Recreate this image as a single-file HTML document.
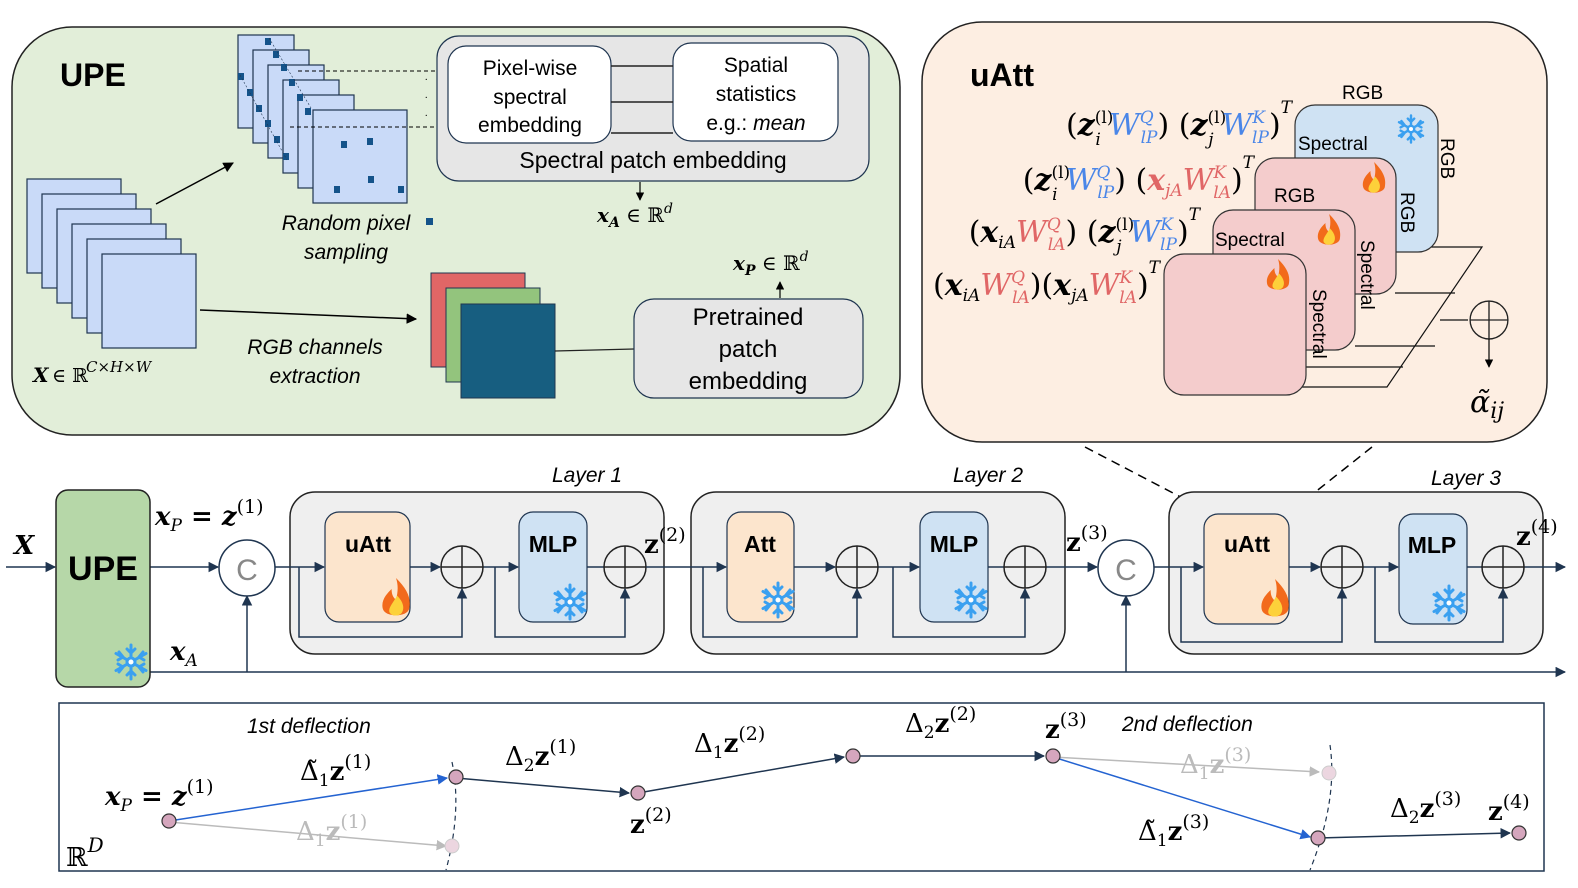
<!DOCTYPE html>
<html><head><meta charset="utf-8"><style>
html,body{margin:0;padding:0;background:#fff}
svg{display:block}
.s{font-family:"Liberation Sans",sans-serif}
.m{font-family:"DejaVu Serif","Liberation Serif",serif}
</style></head><body>
<svg width="1578" height="888" viewBox="0 0 1578 888" xmlns="http://www.w3.org/2000/svg">
<defs>
<marker id="a" viewBox="0 0 10 10" refX="9" refY="5" markerWidth="7" markerHeight="7" orient="auto"><path d="M0,0L10,5L0,10z" fill="#1f3550"/></marker>
<marker id="ak" viewBox="0 0 10 10" refX="9" refY="5" markerWidth="7" markerHeight="7" orient="auto"><path d="M0,0L10,5L0,10z" fill="#000"/></marker>
<marker id="ab" viewBox="0 0 10 10" refX="9" refY="5" markerWidth="7" markerHeight="7" orient="auto"><path d="M0,0L10,5L0,10z" fill="#2463d1"/></marker>
<marker id="ag" viewBox="0 0 10 10" refX="9" refY="5" markerWidth="7" markerHeight="7" orient="auto"><path d="M0,0L10,5L0,10z" fill="#bbb"/></marker>
<g id="fire"><path d="M0,-20 C10,-10 14,-2 12,8 C10,16 -10,16 -12,8 C-14,0 -8,-6 -4,-10 C-4,-4 -2,-2 0,0 C2,-8 2,-14 0,-20z" fill="#f26a1b"/><path d="M1,-4 C7,2 8,8 5,12 C2,15 -4,15 -6,11 C-7,7 -3,3 1,-4z" fill="#fdd13a"/></g>
<g id="snow" stroke="#3aa0f0" stroke-width="3" stroke-linecap="round" fill="none"><path d="M0,-17V17M-15,-8.5L15,8.5M-15,8.5L15,-8.5M-4,-13L0,-9L4,-13M-4,13L0,9L4,13M-13,-2L-8,-5L-12,-10M13,2L8,5L12,10M13,-2L8,-5L12,-10M-13,2L-8,5L-12,10"/><circle r="4" fill="#fff"/></g>
<g id="plus"><circle r="21" fill="none" stroke="#222" stroke-width="1.5"/><path d="M-21,0H21M0,-21V21" stroke="#222" stroke-width="1.5"/></g>
</defs>

<!-- UPE panel -->
<rect x="12" y="27" width="888" height="408" rx="60" fill="#e2eed9" stroke="#222" stroke-width="1.5"/>
<text x="60" y="86" class="s" font-size="32" font-weight="bold">UPE</text>
<g fill="#c9daf8" stroke="#1f3550" stroke-width="1.2">
<rect x="27" y="179" width="94" height="94"/><rect x="42" y="194" width="94" height="94"/><rect x="57" y="209" width="94" height="94"/><rect x="72" y="224" width="94" height="94"/><rect x="87" y="239" width="94" height="94"/><rect x="102" y="254" width="94" height="94"/>
</g>
<text x="33" y="382" class="m" font-size="20" font-style="italic" font-weight="bold">X</text>
<text x="52" y="382" class="m" font-size="19">∈ ℝ</text>
<text x="86" y="372" class="m" font-size="15" font-style="italic">C×H×W</text>
<line x1="156" y1="204" x2="233" y2="163" stroke="#000" stroke-width="1.5" marker-end="url(#ak)"/>
<g fill="#c9daf8" stroke="#1f3550" stroke-width="1.2">
<rect x="238" y="35" width="56" height="93"/><rect x="253" y="50" width="56" height="93"/><rect x="268" y="65" width="56" height="93"/><rect x="283" y="80" width="56" height="93"/><rect x="298" y="95" width="56" height="93"/><rect x="313" y="110" width="94" height="93"/>
</g>
<g fill="#14538a">
<rect x="265" y="38" width="6" height="7"/><rect x="273" y="51" width="6" height="7"/><rect x="281" y="64" width="6" height="7"/><rect x="289" y="79" width="6" height="7"/><rect x="297" y="94" width="6" height="7"/><rect x="305" y="108" width="6" height="7"/>
<rect x="238" y="73" width="6" height="7"/><rect x="247" y="89" width="6" height="7"/><rect x="256" y="105" width="6" height="7"/><rect x="265" y="120" width="6" height="7"/><rect x="274" y="136" width="6" height="7"/><rect x="283" y="153" width="6" height="7"/>
<rect x="341" y="141" width="6" height="7"/><rect x="367" y="138" width="6" height="7"/><rect x="334" y="186" width="6" height="7"/><rect x="368" y="176" width="6" height="7"/><rect x="398" y="186" width="6" height="7"/>
<rect x="426" y="218" width="7" height="7"/>
</g>
<path d="M269,38L311,108M240,75L287,160" stroke="#1f3550" stroke-width="0.6" stroke-dasharray="2,2"/>
<path d="M298,71H448M290,127H448" stroke="#000" stroke-dasharray="4,3" stroke-width="1"/>
<text x="425" y="80" font-size="10">.</text><text x="425" y="98" font-size="10">.</text><text x="425" y="116" font-size="10">.</text>
<text x="346" y="230" class="s" font-size="21" font-style="italic" text-anchor="middle">Random pixel</text>
<text x="346" y="259" class="s" font-size="21" font-style="italic" text-anchor="middle">sampling</text>
<rect x="437" y="36" width="432" height="145" rx="22" fill="#e6e6e6" stroke="#1f3550" stroke-width="1.2"/>
<rect x="448" y="46" width="163" height="97" rx="18" fill="#fff" stroke="#1f3550" stroke-width="1.2"/>
<rect x="673" y="43" width="165" height="98" rx="18" fill="#fff" stroke="#1f3550" stroke-width="1.2"/>
<path d="M611,66H673M611,102H673M611,133H673" stroke="#222" stroke-width="1.5"/>
<g class="s" font-size="21" text-anchor="middle">
<text x="530" y="75">Pixel-wise</text><text x="530" y="104">spectral</text><text x="530" y="132">embedding</text>
<text x="756" y="72">Spatial</text><text x="756" y="101">statistics</text><text x="756" y="130">e.g.: <tspan font-style="italic">mean</tspan></text>
<text x="653" y="168" font-size="23">Spectral patch embedding</text>
</g>
<line x1="640" y1="182" x2="640" y2="200" stroke="#000" stroke-width="1.2" marker-end="url(#ak)"/>
<text x="597" y="222" class="m" font-size="20" font-style="italic" font-weight="bold">x<tspan font-size="14" dy="5">A</tspan><tspan dy="-5" font-weight="normal" font-style="normal"> ∈ ℝ</tspan><tspan font-size="14" dy="-9" font-weight="normal">d</tspan></text>
<line x1="200" y1="310" x2="416" y2="319" stroke="#000" stroke-width="1.5" marker-end="url(#ak)"/>
<text x="315" y="354" class="s" font-size="21" font-style="italic" text-anchor="middle">RGB channels</text>
<text x="315" y="383" class="s" font-size="21" font-style="italic" text-anchor="middle">extraction</text>
<rect x="431" y="273" width="94" height="94" fill="#e06666" stroke="#1f3550" stroke-width="1"/>
<rect x="446" y="288" width="94" height="94" fill="#93c47d" stroke="#1f3550" stroke-width="1"/>
<rect x="461" y="304" width="94" height="94" fill="#175e80" stroke="#1f3550" stroke-width="1"/>
<line x1="555" y1="351" x2="634" y2="349" stroke="#222" stroke-width="1.2"/>
<rect x="634" y="299" width="229" height="99" rx="20" fill="#e6e6e6" stroke="#1f3550" stroke-width="1.2"/>
<g class="s" font-size="24" text-anchor="middle"><text x="748" y="325">Pretrained</text><text x="748" y="357">patch</text><text x="748" y="389">embedding</text></g>
<line x1="780" y1="298" x2="780" y2="282" stroke="#000" stroke-width="1.2" marker-end="url(#ak)"/>
<text x="733" y="270" class="m" font-size="20" font-style="italic" font-weight="bold">x<tspan font-size="14" dy="5">P</tspan><tspan dy="-5" font-weight="normal" font-style="normal"> ∈ ℝ</tspan><tspan font-size="14" dy="-9" font-weight="normal">d</tspan></text>

<!-- uAtt panel -->
<rect x="922" y="22" width="625" height="420" rx="60" fill="#fdeee2" stroke="#222" stroke-width="1.5"/>
<text x="970" y="86" class="s" font-size="32" font-weight="bold">uAtt</text>
<path d="M1430,247H1482L1387,387H1300M1395,293H1455M1355,346H1435M1300,367H1403M1440,320H1468" stroke="#111" stroke-width="1.2" fill="none"/>
<rect x="1295" y="105" width="143" height="147" rx="20" fill="#cfe2f3" stroke="#333" stroke-width="1.2"/>
<rect x="1255" y="158" width="141" height="136" rx="20" fill="#f4cccc" stroke="#333" stroke-width="1.2"/>
<rect x="1213" y="210" width="142" height="140" rx="20" fill="#f4cccc" stroke="#333" stroke-width="1.2"/>
<rect x="1164" y="254" width="142" height="141" rx="20" fill="#f4cccc" stroke="#333" stroke-width="1.2"/>
<use href="#snow" transform="translate(1411,129) scale(0.8)"/>
<use href="#fire" transform="translate(1374,180) scale(0.9)"/>
<use href="#fire" transform="translate(1329,232) scale(0.9)"/>
<use href="#fire" transform="translate(1278,277) scale(0.9)"/>
<g class="s" font-size="19">
<text x="1342" y="99">RGB</text><text x="1298" y="150">Spectral</text><text x="1274" y="202">RGB</text><text x="1215" y="246">Spectral</text>
<text transform="translate(1441,138) rotate(90)">RGB</text>
<text transform="translate(1401,192) rotate(90)">RGB</text>
<text transform="translate(1361,240) rotate(90)">Spectral</text>
<text transform="translate(1313,289) rotate(90)">Spectral</text>
</g>
<use href="#plus" transform="translate(1489,320) scale(0.9)"/>
<line x1="1489" y1="339" x2="1489" y2="367" stroke="#000" stroke-width="1.2" marker-end="url(#ak)"/>
<text x="1470" y="412" class="m" font-size="30" font-style="italic">α̃<tspan font-size="22" dy="6">ij</tspan></text>
<!-- formulas -->
<g class="m" font-size="30" text-anchor="end">
<text x="1292" y="135">(<tspan font-weight="bold" font-style="italic">z</tspan><tspan font-size="17" dy="-12">(l)</tspan><tspan font-size="17" dx="-18" dy="22" font-style="italic">i</tspan><tspan dy="-10" dx="8" fill="#4a86e8" font-style="italic">W</tspan><tspan font-size="17" dy="-12" fill="#4a86e8" font-style="italic">Q</tspan><tspan font-size="17" dx="-13" dy="20" fill="#4a86e8" font-style="italic">lP</tspan><tspan dy="-8">) (</tspan><tspan font-weight="bold" font-style="italic">z</tspan><tspan font-size="17" dy="-12">(l)</tspan><tspan font-size="17" dx="-18" dy="22" font-style="italic">j</tspan><tspan dy="-10" dx="8" fill="#4a86e8" font-style="italic">W</tspan><tspan font-size="17" dy="-12" fill="#4a86e8" font-style="italic">K</tspan><tspan font-size="17" dx="-13" dy="20" fill="#4a86e8" font-style="italic">lP</tspan><tspan dy="-8">)</tspan><tspan font-size="17" dy="-22" font-style="italic">T</tspan></text>
<text x="1254" y="190">(<tspan font-weight="bold" font-style="italic">z</tspan><tspan font-size="17" dy="-12">(l)</tspan><tspan font-size="17" dx="-18" dy="22" font-style="italic">i</tspan><tspan dy="-10" dx="8" fill="#4a86e8" font-style="italic">W</tspan><tspan font-size="17" dy="-12" fill="#4a86e8" font-style="italic">Q</tspan><tspan font-size="17" dx="-13" dy="20" fill="#4a86e8" font-style="italic">lP</tspan><tspan dy="-8">) (</tspan><tspan font-weight="bold" font-style="italic" fill="#e06666">x</tspan><tspan font-size="17" dy="6" font-style="italic" fill="#e06666">jA</tspan><tspan dy="-6" fill="#e06666" font-style="italic">W</tspan><tspan font-size="17" dy="-12" fill="#e06666" font-style="italic">K</tspan><tspan font-size="17" dx="-13" dy="20" fill="#e06666" font-style="italic">lA</tspan><tspan dy="-8">)</tspan><tspan font-size="17" dy="-22" font-style="italic">T</tspan></text>
<text x="1200" y="242">(<tspan font-weight="bold" font-style="italic">x</tspan><tspan font-size="17" dy="6" font-style="italic">iA</tspan><tspan dy="-6" fill="#e06666" font-style="italic">W</tspan><tspan font-size="17" dy="-12" fill="#e06666" font-style="italic">Q</tspan><tspan font-size="17" dx="-13" dy="20" fill="#e06666" font-style="italic">lA</tspan><tspan dy="-8">) (</tspan><tspan font-weight="bold" font-style="italic">z</tspan><tspan font-size="17" dy="-12">(l)</tspan><tspan font-size="17" dx="-18" dy="22" font-style="italic">j</tspan><tspan dy="-10" dx="8" fill="#4a86e8" font-style="italic">W</tspan><tspan font-size="17" dy="-12" fill="#4a86e8" font-style="italic">K</tspan><tspan font-size="17" dx="-13" dy="20" fill="#4a86e8" font-style="italic">lP</tspan><tspan dy="-8">)</tspan><tspan font-size="17" dy="-22" font-style="italic">T</tspan></text>
<text x="1160" y="295">(<tspan font-weight="bold" font-style="italic">x</tspan><tspan font-size="17" dy="6" font-style="italic">iA</tspan><tspan dy="-6" fill="#e06666" font-style="italic">W</tspan><tspan font-size="17" dy="-12" fill="#e06666" font-style="italic">Q</tspan><tspan font-size="17" dx="-13" dy="20" fill="#e06666" font-style="italic">lA</tspan><tspan dy="-8">)(</tspan><tspan font-weight="bold" font-style="italic">x</tspan><tspan font-size="17" dy="6" font-style="italic">jA</tspan><tspan dy="-6" fill="#e06666" font-style="italic">W</tspan><tspan font-size="17" dy="-12" fill="#e06666" font-style="italic">K</tspan><tspan font-size="17" dx="-13" dy="20" fill="#e06666" font-style="italic">lA</tspan><tspan dy="-8">)</tspan><tspan font-size="17" dy="-22" font-style="italic">T</tspan></text>
</g>
<path d="M1085,447L1217,516M1372,447L1285,516" stroke="#000" stroke-width="1.5" stroke-dasharray="9,6"/>

<!-- Main pipeline -->
<g stroke="#1f3550" stroke-width="1.5" fill="none">
<line x1="6" y1="567" x2="55" y2="567" marker-end="url(#a)"/>
<line x1="150" y1="567" x2="218" y2="567" marker-end="url(#a)"/>
<line x1="150" y1="672" x2="1565" y2="672" marker-end="url(#a)"/>
<line x1="247" y1="672" x2="247" y2="596" marker-end="url(#a)"/>
<line x1="1126" y1="672" x2="1126" y2="596" marker-end="url(#a)"/>
</g>
<rect x="56" y="490" width="94" height="197" rx="12" fill="#b6d7a8" stroke="#222" stroke-width="1.5"/>
<text x="103" y="580" class="s" font-size="34" font-weight="bold" text-anchor="middle">UPE</text>
<use href="#snow" transform="translate(131,662)"/>
<text x="14" y="554" class="m" font-size="26" font-style="italic" font-weight="bold">X</text>
<text x="155" y="525" class="m" font-size="26" font-style="italic" font-weight="bold">x<tspan font-size="17" dy="6" font-weight="normal">P</tspan><tspan dy="-6" font-style="normal"> = </tspan>z<tspan font-size="19" dy="-12" font-weight="normal" font-style="normal">(1)</tspan></text>
<text x="170" y="660" class="m" font-size="26" font-style="italic" font-weight="bold">x<tspan font-size="17" dy="6" font-weight="normal">A</tspan></text>
<circle cx="247" cy="568" r="28" fill="#fff" stroke="#1f3550" stroke-width="1.5"/>
<text x="247" y="580" class="s" font-size="30" fill="#888" text-anchor="middle">C</text>
<circle cx="1126" cy="568" r="28" fill="#fff" stroke="#1f3550" stroke-width="1.5"/>
<text x="1126" y="580" class="s" font-size="30" fill="#888" text-anchor="middle">C</text>

<g transform="translate(290,0)">
<rect x="0" y="492" width="374" height="162" rx="25" fill="#efefef" stroke="#222" stroke-width="1.5"/>
<g stroke="#1f3550" stroke-width="1.5" fill="none">
<line x1="-15" y1="567" x2="34" y2="567" marker-end="url(#a)"/>
<path d="M9,567V637H172V589" marker-end="url(#a)"/>
<line x1="120" y1="567" x2="150" y2="567" marker-end="url(#a)"/>
<line x1="193" y1="567" x2="228" y2="567" marker-end="url(#a)"/>
<path d="M205,567V637H335V589" marker-end="url(#a)"/>
<line x1="297" y1="567" x2="314" y2="567"/>
</g>
<rect x="35" y="512" width="85" height="110" rx="14" fill="#fce5cd" stroke="#1f3550" stroke-width="1.2"/>
<rect x="229" y="512" width="68" height="110" rx="14" fill="#cfe2f3" stroke="#1f3550" stroke-width="1.2"/>
<use href="#plus" transform="translate(172,567)"/><use href="#plus" transform="translate(335,567)"/>
<text x="78" y="552" class="s" font-size="23" font-weight="bold" text-anchor="middle">uAtt</text>
<text x="263" y="552" class="s" font-size="23" font-weight="bold" text-anchor="middle">MLP</text>
<use href="#fire" transform="translate(106,600) scale(1.1)"/>
<use href="#snow" transform="translate(280,602)"/>
<text x="262" y="482" class="s" font-size="21" font-style="italic">Layer 1</text>
</g>
<text x="644" y="553" class="m" font-size="26" font-weight="bold">z<tspan font-size="19" dy="-12" font-weight="normal">(2)</tspan></text>
<g transform="translate(691,0)">
<rect x="0" y="492" width="374" height="162" rx="25" fill="#efefef" stroke="#222" stroke-width="1.5"/>
<g stroke="#1f3550" stroke-width="1.5" fill="none">
<line x1="-45" y1="567" x2="35" y2="567" marker-end="url(#a)"/>
<path d="M12,567V637H166V589" marker-end="url(#a)"/>
<line x1="103" y1="567" x2="144" y2="567" marker-end="url(#a)"/>
<line x1="187" y1="567" x2="228" y2="567" marker-end="url(#a)"/>
<path d="M202,567V637H334V589" marker-end="url(#a)"/>
<line x1="297" y1="567" x2="313" y2="567"/>
<line x1="355" y1="567" x2="406" y2="567" marker-end="url(#a)"/>
</g>
<rect x="36" y="512" width="67" height="110" rx="14" fill="#fce5cd" stroke="#1f3550" stroke-width="1.2"/>
<rect x="229" y="512" width="68" height="110" rx="14" fill="#cfe2f3" stroke="#1f3550" stroke-width="1.2"/>
<use href="#plus" transform="translate(166,567)"/><use href="#plus" transform="translate(334,567)"/>
<text x="69" y="552" class="s" font-size="23" font-weight="bold" text-anchor="middle">Att</text>
<text x="263" y="552" class="s" font-size="23" font-weight="bold" text-anchor="middle">MLP</text>
<use href="#snow" transform="translate(87,600)"/>
<use href="#snow" transform="translate(280,600)"/>
<text x="262" y="482" class="s" font-size="21" font-style="italic">Layer 2</text>
</g>
<text x="1066" y="551" class="m" font-size="26" font-weight="bold">z<tspan font-size="19" dy="-12" font-weight="normal">(3)</tspan></text>
<g transform="translate(1169,0)">
<rect x="0" y="492" width="374" height="162" rx="25" fill="#efefef" stroke="#222" stroke-width="1.5"/>
<g stroke="#1f3550" stroke-width="1.5" fill="none">
<line x1="-15" y1="567" x2="34" y2="567" marker-end="url(#a)"/>
<path d="M12,567V642H173V589" marker-end="url(#a)"/>
<line x1="120" y1="567" x2="151" y2="567" marker-end="url(#a)"/>
<line x1="194" y1="567" x2="229" y2="567" marker-end="url(#a)"/>
<path d="M206,567V642H334V589" marker-end="url(#a)"/>
<line x1="298" y1="567" x2="313" y2="567"/>
<line x1="355" y1="567" x2="396" y2="567" marker-end="url(#a)"/>
</g>
<rect x="35" y="514" width="85" height="110" rx="14" fill="#fce5cd" stroke="#1f3550" stroke-width="1.2"/>
<rect x="230" y="514" width="68" height="110" rx="14" fill="#cfe2f3" stroke="#1f3550" stroke-width="1.2"/>
<use href="#plus" transform="translate(173,567)"/><use href="#plus" transform="translate(334,567)"/>
<text x="78" y="552" class="s" font-size="23" font-weight="bold" text-anchor="middle">uAtt</text>
<text x="263" y="553" class="s" font-size="23" font-weight="bold" text-anchor="middle">MLP</text>
<use href="#fire" transform="translate(106,601) scale(1.1)"/>
<use href="#snow" transform="translate(280,603)"/>
<text x="262" y="485" class="s" font-size="21" font-style="italic">Layer 3</text>
</g>
<text x="1516" y="545" class="m" font-size="26" font-weight="bold">z<tspan font-size="19" dy="-12" font-weight="normal">(4)</tspan></text>

<!-- Bottom trajectory panel -->
<rect x="59" y="703" width="1485" height="168" fill="#fff" stroke="#1f3550" stroke-width="1.5"/>
<text x="66" y="866" class="m" font-size="26">ℝ<tspan font-size="20" dy="-14" font-style="italic">D</tspan></text>
<text x="247" y="733" class="s" font-size="21" font-style="italic">1st deflection</text>
<text x="1122" y="731" class="s" font-size="21" font-style="italic">2nd deflection</text>
<path d="M452,762Q462,810 446,870M1330,745Q1338,800 1310,870" stroke="#1f3550" stroke-width="1.2" stroke-dasharray="5,4" fill="none"/>
<g stroke-width="1.5" fill="none">
<line x1="169" y1="822" x2="446" y2="846" stroke="#bbb" marker-end="url(#ag)"/>
<line x1="1053" y1="757" x2="1319" y2="772" stroke="#bbb" marker-end="url(#ag)"/>
<line x1="169" y1="821" x2="447" y2="778" stroke="#2463d1" marker-end="url(#ab)"/>
<line x1="1053" y1="757" x2="1310" y2="837" stroke="#2463d1" marker-end="url(#ab)"/>
<line x1="456" y1="778" x2="629" y2="793" stroke="#1f3550" marker-end="url(#a)"/>
<line x1="638" y1="793" x2="844" y2="757" stroke="#1f3550" marker-end="url(#a)"/>
<line x1="853" y1="756" x2="1044" y2="756" stroke="#1f3550" marker-end="url(#a)"/>
<line x1="1318" y1="838" x2="1510" y2="833" stroke="#1f3550" marker-end="url(#a)"/>
</g>
<g stroke="#333" stroke-width="1.2" fill="#d5a6bd">
<circle cx="169" cy="821" r="7"/><circle cx="456" cy="777" r="7"/><circle cx="638" cy="793" r="7"/><circle cx="853" cy="756" r="7"/><circle cx="1053" cy="756" r="7"/><circle cx="1318" cy="838" r="7"/><circle cx="1519" cy="833" r="7"/>
</g>
<g stroke="#ccc" stroke-width="1" fill="#ecd6e0"><circle cx="452" cy="846" r="7"/><circle cx="1329" cy="773" r="7"/></g>
<g class="m" font-size="26" font-weight="bold">
<text x="105" y="805" font-style="italic">x<tspan font-size="17" dy="6" font-weight="normal">P</tspan><tspan dy="-6" font-style="normal"> = </tspan>z<tspan font-size="19" dy="-12" font-weight="normal" font-style="normal">(1)</tspan></text>
<text x="300" y="780"><tspan font-weight="normal">Δ̃</tspan><tspan font-size="17" dy="6" font-weight="normal">1</tspan><tspan dy="-6">z</tspan><tspan font-size="19" dy="-12" font-weight="normal">(1)</tspan></text>
<text x="296" y="840" fill="#bbb"><tspan font-weight="normal">Δ</tspan><tspan font-size="17" dy="6" font-weight="normal">1</tspan><tspan dy="-6">z</tspan><tspan font-size="19" dy="-12" font-weight="normal">(1)</tspan></text>
<text x="505" y="765"><tspan font-weight="normal">Δ</tspan><tspan font-size="17" dy="6" font-weight="normal">2</tspan><tspan dy="-6">z</tspan><tspan font-size="19" dy="-12" font-weight="normal">(1)</tspan></text>
<text x="630" y="833">z<tspan font-size="19" dy="-12" font-weight="normal">(2)</tspan></text>
<text x="694" y="752"><tspan font-weight="normal">Δ</tspan><tspan font-size="17" dy="6" font-weight="normal">1</tspan><tspan dy="-6">z</tspan><tspan font-size="19" dy="-12" font-weight="normal">(2)</tspan></text>
<text x="905" y="732"><tspan font-weight="normal">Δ</tspan><tspan font-size="17" dy="6" font-weight="normal">2</tspan><tspan dy="-6">z</tspan><tspan font-size="19" dy="-12" font-weight="normal">(2)</tspan></text>
<text x="1045" y="738">z<tspan font-size="19" dy="-12" font-weight="normal">(3)</tspan></text>
<text x="1180" y="773" fill="#bbb"><tspan font-weight="normal">Δ</tspan><tspan font-size="17" dy="6" font-weight="normal">1</tspan><tspan dy="-6">z</tspan><tspan font-size="19" dy="-12" font-weight="normal">(3)</tspan></text>
<text x="1138" y="840"><tspan font-weight="normal">Δ̃</tspan><tspan font-size="17" dy="6" font-weight="normal">1</tspan><tspan dy="-6">z</tspan><tspan font-size="19" dy="-12" font-weight="normal">(3)</tspan></text>
<text x="1390" y="817"><tspan font-weight="normal">Δ</tspan><tspan font-size="17" dy="6" font-weight="normal">2</tspan><tspan dy="-6">z</tspan><tspan font-size="19" dy="-12" font-weight="normal">(3)</tspan></text>
<text x="1488" y="820">z<tspan font-size="19" dy="-12" font-weight="normal">(4)</tspan></text>
</g>
</svg>
</body></html>
